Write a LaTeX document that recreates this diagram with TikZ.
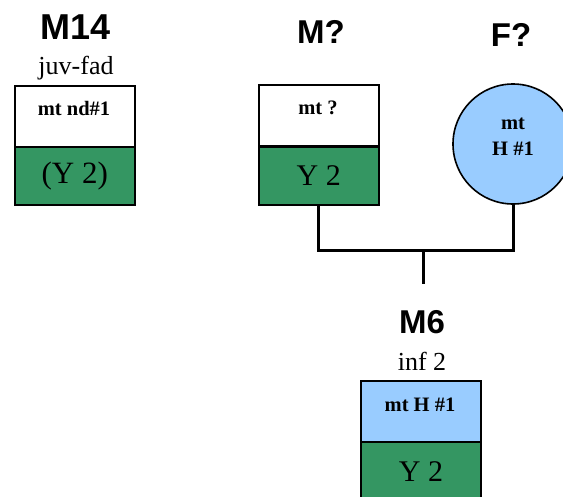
\documentclass[tikz,border=0pt]{standalone}
\usepackage{fontspec}
\setmainfont{Liberation Serif}
\newfontfamily\titlefont{Liberation Sans}
\definecolor{gengreen}{RGB}{52,150,98}
\definecolor{hblue}{RGB}{153,204,255}
\begin{document}
\begin{tikzpicture}[x=1pt,y=-1pt,
  titletext/.style={font=\titlefont\bfseries\fontsize{33}{36}\selectfont, inner sep=0pt},
  agetext/.style={font=\fontsize{26}{28}\selectfont, inner sep=0pt},
  boldlabel/.style={font=\bfseries\fontsize{20.5}{26}\selectfont, inner sep=0pt, align=center},
  topbox/.style={draw=black, line width=1.6pt, minimum width=120pt, minimum height=61pt, anchor=north west, inner sep=0pt},
  botbox/.style={draw=black, line width=1.6pt, fill=gengreen, minimum width=120pt, minimum height=58pt, anchor=north west, inner sep=0pt, font=\fontsize{30}{32}\selectfont},
  link/.style={draw=black, line width=3pt}
]
\useasboundingbox (0,0) rectangle (563,496);
% M14
\node[titletext, font=\titlefont\bfseries\fontsize{36}{38}\selectfont] (t14) at (76,27) {M14};
\node[agetext] (a14) at (76,68) {juv-fad};
\node[topbox, fill=white] (m14t) at (14,85) {};
\node[boldlabel] (m14tl) at (74,108) {mt nd\#1};
\node[botbox, font=\fontsize{31}{33}\selectfont] (m14b) at (14,146) {(Y 2)};
% M?
\node[titletext] (tmq) at (321,32) {M?};
\node[topbox, fill=white] (mqt) at (258,84) {};
\node[boldlabel] (mqtl) at (318,108) {mt ?};
\node[botbox] (mqb) at (258,146) {Y 2};
% F?
\node[titletext] (tfq) at (511,35) {F?};
\node[draw=black, line width=1.6pt, fill=hblue, circle, minimum size=120pt, inner sep=0pt] (fq) at (513,144) {};
\node[boldlabel] (fql) at (513,137) {mt\\H \#1};
% connectors
\coordinate (jn) at (423,250);
\coordinate (stem) at (423,284);
\draw[link] (mqb.south) |- (jn) -| (fq.south);
\draw[link] (jn) -- (stem);
% M6
\node[titletext] (t6) at (422,322) {M6};
\node[agetext] (a6) at (422,361) {inf 2};
\node[topbox, fill=hblue] (m6t) at (360,380) {};
\node[boldlabel] (m6tl) at (420,405) {mt H \#1};
\node[botbox, minimum height=62pt] (m6b) at (360,441) {};
\node[font=\fontsize{30}{32}\selectfont] (m6bl) at (421,472) {Y 2};
\end{tikzpicture}
\end{document}
